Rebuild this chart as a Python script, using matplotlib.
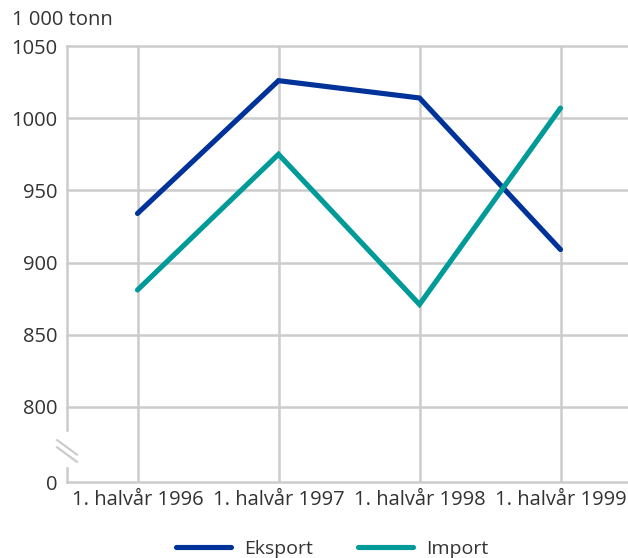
import matplotlib.pyplot as plt
import numpy as np

plt.rcParams['font.family'] = ['Open Sans', 'DejaVu Sans']

# data (1 000 tonn)
periods = ['1. halvår 1996', '1. halvår 1997', '1. halvår 1998', '1. halvår 1999']
eksport = [934, 1026, 1014, 909]
importt = [881, 975, 871, 1007]
yticks = [800, 850, 900, 950, 1000, 1050]

# the axis is broken between 0 and 800: 0 is drawn at this fake value
zero_pos = 748

blue = '#003399'
teal = '#009b98'
grid = '#cccccc'
txt = '#333333'
fs = 14.5

fig = plt.figure(figsize=(6.28, 5.58), dpi=100)
ax = fig.add_axes([67/628, 76/558, 561/628, 436/558])

x = np.arange(len(periods)) + 0.5
ax.plot(x, eksport, color=blue, lw=3.7, solid_capstyle='round', solid_joinstyle='miter', label='Eksport', zorder=3)
ax.plot(x, importt, color=teal, lw=3.7, solid_capstyle='round', solid_joinstyle='miter', label='Import', zorder=3)

ax.set_xlim(0, 561/141)
ax.set_ylim(zero_pos, 1050)

# grid
for yv in yticks:
    ax.axhline(yv, color=grid, lw=1.8, zorder=1, clip_on=False)
for xv in x:
    ax.axvline(xv, color=grid, lw=1.8, zorder=1)
ax.axhline(zero_pos, color=grid, lw=1.8, zorder=1, clip_on=False)

for s in ax.spines.values():
    s.set_visible(False)

# left axis with break
ymax_lo = 10 / (1050 - zero_pos)
ymin_hi = 36 / (1050 - zero_pos)
ax.axvline(0, 0, ymax_lo, color=grid, lw=1.8, clip_on=False)
ax.axvline(0, ymin_hi, 1, color=grid, lw=1.8, clip_on=False)
for dy in [0, 5]:
    ax.plot([-0.07, 0.07], [zero_pos + 29 - dy, zero_pos + 19 - dy], color=grid, lw=1.6,
            clip_on=False, zorder=2)

ax.set_yticks(yticks + [zero_pos])
ax.set_yticklabels([str(v) for v in yticks] + ['0'])
ax.set_xticks(x)
ax.set_xticklabels(periods)
ax.tick_params(length=0, labelsize=fs, colors=txt, pad=7)
ax.tick_params(axis='x', pad=6)

fig.text(12/628, 1 - 20/558, '1 000 tonn', fontsize=fs, color=txt, va='center', ha='left')

leg = fig.legend(loc='center', bbox_to_anchor=(332/628, 1 - 549/558), ncol=2, frameon=False,
                 fontsize=14, handlelength=2.85, handletextpad=0.65, columnspacing=2.3)
for t in leg.get_texts():
    t.set_color(txt)

fig.savefig('out.png', dpi=100)
